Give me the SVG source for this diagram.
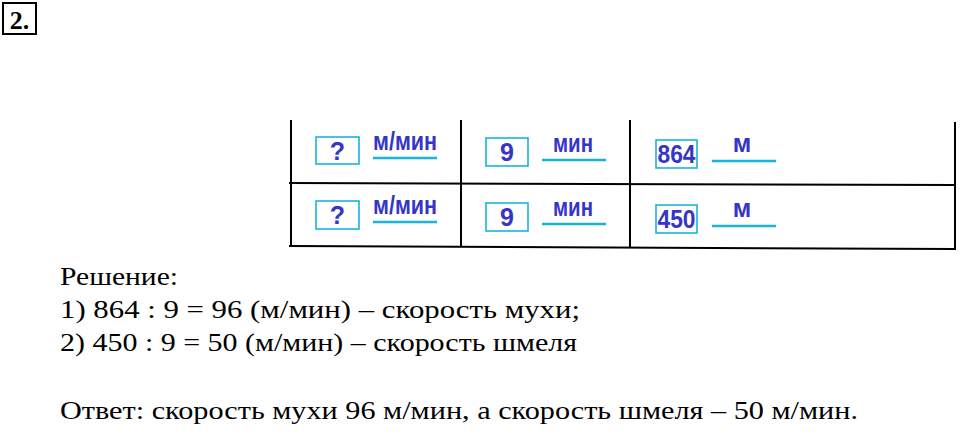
<svg xmlns="http://www.w3.org/2000/svg" width="960" height="437" viewBox="0 0 960 437">
<style>
.t{font-family:"Liberation Serif",serif;font-size:26px;fill:#000}
.g{stroke:#000;stroke-width:2;fill:none}
.b{fill:#fff;stroke:#19b5d8;stroke-width:1.6}
.n{font-family:"Liberation Sans",sans-serif;font-weight:bold;font-size:25px;fill:#3535c8;text-anchor:middle}
.u{stroke:#19b5d8;stroke-width:2.5}
</style>
<rect width="960" height="437" fill="#fff"/>
<g id="num"><rect x="3" y="3" width="33" height="31" class="g" stroke-width="2.5"/><text x="19.5" y="29" class="t" font-weight="bold" font-size="29" text-anchor="middle">2.</text></g>
<g id="table" class="g">
<line x1="291" y1="120" x2="291" y2="247"/>
<line x1="461" y1="120" x2="461" y2="247"/>
<line x1="630" y1="120" x2="630" y2="248"/>
<line x1="955" y1="122" x2="955" y2="249"/>
<line x1="289" y1="183" x2="956" y2="185"/>
<line x1="289" y1="246" x2="956" y2="249"/>
</g>
<g id="row1">
<rect x="316" y="137" width="43" height="27" class="b"/><text x="337.5" y="160" class="n">?</text>
<text x="405" y="150" class="n" textLength="64" lengthAdjust="spacingAndGlyphs">м/мин</text><line x1="373" y1="158" x2="437" y2="158" class="u"/>
<rect x="486" y="138" width="42" height="28" class="b"/><text x="507" y="161" class="n">9</text>
<text x="573" y="152" class="n" textLength="40" lengthAdjust="spacingAndGlyphs">мин</text><line x1="542" y1="160" x2="606" y2="160" class="u"/>
<rect x="656" y="140" width="41" height="28" class="b"/><text x="676.5" y="163" class="n" textLength="38" lengthAdjust="spacingAndGlyphs">864</text>
<text x="742" y="152" class="n">м</text><line x1="712" y1="161" x2="776" y2="161" class="u"/>
</g>
<g id="row2">
<rect x="316" y="201" width="43" height="28" class="b"/><text x="337.5" y="224" class="n">?</text>
<text x="405" y="214" class="n" textLength="64" lengthAdjust="spacingAndGlyphs">м/мин</text><line x1="373" y1="222" x2="437" y2="222" class="u"/>
<rect x="486" y="203" width="42" height="28" class="b"/><text x="507" y="226" class="n">9</text>
<text x="573" y="216" class="n" textLength="40" lengthAdjust="spacingAndGlyphs">мин</text><line x1="542" y1="224" x2="606" y2="224" class="u"/>
<rect x="656" y="205" width="41" height="28" class="b"/><text x="676.5" y="228" class="n" textLength="38" lengthAdjust="spacingAndGlyphs">450</text>
<text x="742" y="217" class="n">м</text><line x1="712" y1="226" x2="776" y2="226" class="u"/>
</g>
<g id="text">
<text x="60" y="285" class="t" textLength="118" lengthAdjust="spacingAndGlyphs">Решение:</text>
<text x="60" y="318" class="t" textLength="520" lengthAdjust="spacingAndGlyphs">1) 864 : 9 = 96 (м/мин) – скорость мухи;</text>
<text x="60" y="351" class="t" textLength="517" lengthAdjust="spacingAndGlyphs">2) 450 : 9 = 50 (м/мин) – скорость шмеля</text>
<text x="60" y="419" class="t" textLength="798" lengthAdjust="spacingAndGlyphs">Ответ: скорость мухи 96 м/мин, а скорость шмеля – 50 м/мин.</text>
</g>
</svg>
